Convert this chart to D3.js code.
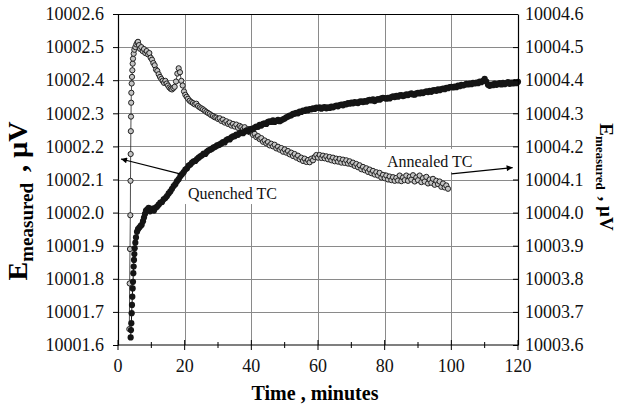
<!DOCTYPE html>
<html>
<head>
<meta charset="utf-8">
<script src="https://cdn.jsdelivr.net/npm/d3@7"></script>
<style>
  body { margin: 0; background: #fff; }
</style>
</head>
<body>
<div id="chart"></div>
<script>
// Quenched TC, left axis [time (min), E (uV)]
const quenched = [
  [3.8,10001.623],[3.9,10001.645],[4.0,10001.666],[4.1,10001.696],[4.2,10001.721],[4.3,10001.746],
  [4.4,10001.771],[4.5,10001.791],[4.6,10001.817],[4.7,10001.837],[4.8,10001.857],[4.9,10001.875],
  [5.0,10001.892],[5.2,10001.909],[5.4,10001.925],[5.7,10001.942],[6.0,10001.950],[6.4,10001.955],
  [6.8,10001.960],[7.1,10001.963],[7.5,10001.974],[7.8,10001.985],[8.1,10001.996],[8.4,10002.006],
  [8.8,10002.010],[9.2,10002.014],[9.6,10002.004],[10.0,10002.008],[10.4,10002.012],[10.8,10002.006],
  [11.2,10002.014],[11.7,10002.018],[12.2,10002.024],[12.7,10002.030],[13.2,10002.032],[13.7,10002.040],
  [14.2,10002.044],[14.7,10002.050],[15.2,10002.058],[15.7,10002.064],[16.2,10002.072],[16.7,10002.080],
  [17.2,10002.086],[17.7,10002.095],[18.2,10002.101],[18.7,10002.110],[19.2,10002.116],[19.7,10002.122],
  [20.2,10002.130],[20.7,10002.134],[21.2,10002.142],[21.7,10002.145],[22.2,10002.151],[22.7,10002.155],
  [23.2,10002.156],[23.7,10002.162],[24.2,10002.166],[24.7,10002.170],[25.2,10002.173],[25.7,10002.178],
  [26.2,10002.177],[26.7,10002.184],[27.2,10002.188],[27.7,10002.190],[28.2,10002.193],[28.7,10002.197],
  [29.2,10002.199],[29.7,10002.203],[30.2,10002.204],
  [30.5,10002.206],[31,10002.209],[31.5,10002.213],[32,10002.212],[32.5,10002.219],[33,10002.222],
  [33.5,10002.221],[34,10002.227],[34.5,10002.230],[35,10002.231],[35.5,10002.236],[36,10002.235],
  [36.5,10002.240],[37,10002.242],[37.5,10002.240],[38,10002.245],[38.5,10002.248],[39,10002.246],
  [39.5,10002.251],[40,10002.253],[40.5,10002.252],[41,10002.257],[41.5,10002.260],[42,10002.259],
  [42.5,10002.265],[43,10002.263],[43.5,10002.268],[44,10002.270],[44.5,10002.268],[45,10002.274],
  [45.5,10002.276],[46,10002.274],[46.5,10002.279],[47,10002.274],[47.5,10002.277],[48,10002.280],
  [48.5,10002.276],[49,10002.279],[49.5,10002.282],[50,10002.284],[50.5,10002.288],[51,10002.290],
  [51.5,10002.293],[52,10002.294],[52.5,10002.298],[53,10002.299],[53.5,10002.301],[54,10002.300],
  [54.5,10002.305],[55,10002.304],[55.5,10002.308],[56,10002.307],[56.5,10002.311],[57,10002.309],
  [57.5,10002.313],[58,10002.312],[58.5,10002.315],[59,10002.313],[59.5,10002.317],[60,10002.316],
  [60.5,10002.318],[61,10002.314],[61.5,10002.317],[62,10002.319],[62.5,10002.315],[63,10002.318],
  [63.5,10002.316],[64,10002.320],[64.5,10002.318],[65,10002.321],[65.5,10002.323],[66,10002.321],
  [66.5,10002.325],[67,10002.326],[67.5,10002.324],[68,10002.328],[68.5,10002.327],[69,10002.331],
  [69.5,10002.329],[70,10002.332],[70.5,10002.330],[71,10002.334],[71.5,10002.332],[72,10002.331],
  [72.5,10002.335],[73,10002.336],[73.5,10002.334],[74,10002.337],[74.5,10002.335],[75,10002.339],
  [75.5,10002.341],[76,10002.339],[76.5,10002.342],[77,10002.337],[77.5,10002.341],[78,10002.343],
  [78.5,10002.341],[79,10002.345],[79.5,10002.347],[80,10002.346],[80.5,10002.344],[81,10002.347],
  [81.5,10002.345],[82,10002.349],[82.5,10002.351],[83,10002.349],[83.5,10002.353],[84,10002.350],
  [84.5,10002.354],[85,10002.355],[85.5,10002.352],[86,10002.354],[86.5,10002.357],[87,10002.355],
  [87.5,10002.358],[88,10002.360],[88.5,10002.357],[89,10002.356],[89.5,10002.360],[90,10002.362],
  [90.5,10002.360],[91,10002.363],[91.5,10002.361],[92,10002.364],[92.5,10002.366],[93,10002.364],
  [93.5,10002.368],[94,10002.365],[94.5,10002.369],[95,10002.370],[95.5,10002.368],[96,10002.372],
  [96.5,10002.370],[97,10002.373],[97.5,10002.375],[98,10002.373],[98.5,10002.377],[99,10002.376],
  [99.5,10002.379],[100,10002.380],[100.5,10002.378],[101,10002.381],[101.5,10002.379],[102,10002.384],
  [102.5,10002.382],[103,10002.386],[103.5,10002.384],[104,10002.386],[104.5,10002.389],[105,10002.387],
  [105.5,10002.390],[106,10002.388],[106.5,10002.392],[107,10002.390],[107.5,10002.393],[108,10002.391],
  [108.5,10002.396],[109,10002.394],[109.5,10002.398],[110,10002.404],[110.5,10002.396],[111,10002.386],
  [111.5,10002.383],[112,10002.387],[112.5,10002.385],[113,10002.390],[113.5,10002.386],[114,10002.388],
  [114.5,10002.391],[115,10002.387],[115.5,10002.392],[116,10002.388],[116.5,10002.391],[117,10002.394],
  [117.5,10002.389],[118,10002.393],[118.5,10002.390],[119,10002.394],[119.5,10002.391],[120,10002.395]
];

// Annealed TC, right axis [time (min), E (uV)]
const annealed = [
  [3.4,10003.648],[3.5,10003.786],[3.6,10003.890],[3.7,10003.992],[3.75,10004.096],[3.8,10004.177],
  [3.85,10004.246],[3.9,10004.290],[3.95,10004.332],[4.0,10004.362],[4.1,10004.390],[4.2,10004.410],
  [4.3,10004.430],[4.4,10004.450],[4.5,10004.465],[4.7,10004.480],[4.9,10004.492],[5.2,10004.500],
  [5.5,10004.508],[5.8,10004.514],[6.0,10004.516],[6.3,10004.506],[6.6,10004.495],[7.0,10004.500],
  [7.4,10004.488],[7.8,10004.494],[8.2,10004.482],[8.6,10004.488],[9.0,10004.478],[9.4,10004.482],
  [9.8,10004.468],[10.2,10004.462],[10.6,10004.452],[11.0,10004.445],[11.4,10004.432],[11.8,10004.428],
  [12.2,10004.418],[12.6,10004.410],[13.0,10004.404],[13.4,10004.398],[13.8,10004.392],[14.2,10004.398],
  [14.6,10004.390],[15.0,10004.384],[15.4,10004.378],[15.8,10004.374],[16.2,10004.372],[16.6,10004.376],
  [17.0,10004.380],[17.4,10004.396],[17.8,10004.420],[18.2,10004.436],[18.6,10004.424],[19.0,10004.398],
  [19.4,10004.384],[19.8,10004.366],[20.2,10004.356],[20.6,10004.350],[21.0,10004.344],[21.5,10004.338],
  [22.0,10004.334],[22.5,10004.331],[23.0,10004.327],[23.5,10004.329],[24.0,10004.322],[24.5,10004.318],
  [25.0,10004.315],[25.5,10004.312],[26.0,10004.308],[26.5,10004.304],[27.0,10004.301],[27.5,10004.298],
  [28.0,10004.294],[28.5,10004.292],[29.0,10004.288],[29.5,10004.287],[30.0,10004.283],
  [30.5,10004.285],[31,10004.277],[31.5,10004.281],[32,10004.272],[32.5,10004.276],[33,10004.268],
  [33.5,10004.272],[34,10004.263],[34.5,10004.268],[35,10004.260],[35.5,10004.266],[36,10004.256],
  [36.5,10004.262],[37,10004.258],[37.5,10004.252],[38,10004.258],[38.5,10004.247],[39,10004.252],
  [39.5,10004.243],[40,10004.246],[40.5,10004.235],[41,10004.238],[41.5,10004.228],[42,10004.231],
  [42.5,10004.222],[43,10004.225],[43.5,10004.214],[44,10004.218],[44.5,10004.209],[45,10004.213],
  [45.5,10004.203],[46,10004.208],[46.5,10004.200],[47,10004.205],[47.5,10004.194],[48,10004.199],
  [48.5,10004.190],[49,10004.195],[49.5,10004.184],[50,10004.191],[50.5,10004.181],[51,10004.186],
  [51.5,10004.176],[52,10004.181],[52.5,10004.171],[53,10004.177],[53.5,10004.166],[54,10004.172],
  [54.5,10004.161],[55,10004.166],[55.5,10004.156],[56,10004.163],[56.5,10004.153],[57,10004.159],
  [57.5,10004.152],[58,10004.163],[58.5,10004.158],[59,10004.168],[59.5,10004.174],[60,10004.166],
  [60.5,10004.174],[61,10004.165],[61.5,10004.172],[62,10004.164],[62.5,10004.170],[63,10004.161],
  [63.5,10004.168],[64,10004.158],[64.5,10004.166],[65,10004.155],[65.5,10004.163],[66,10004.154],
  [66.5,10004.162],[67,10004.151],[67.5,10004.160],[68,10004.150],[68.5,10004.158],[69,10004.148],
  [69.5,10004.155],[70,10004.146],[70.5,10004.151],[71,10004.141],[71.5,10004.147],[72,10004.137],
  [72.5,10004.143],[73,10004.131],[73.5,10004.138],[74,10004.128],[74.5,10004.134],[75,10004.123],
  [75.5,10004.130],[76,10004.119],[76.5,10004.126],[77,10004.115],[77.5,10004.122],[78,10004.112],
  [78.5,10004.120],[79,10004.106],[79.5,10004.114],[80,10004.104],[80.5,10004.112],[81,10004.100],
  [81.5,10004.109],[82,10004.098],[82.5,10004.107],[83,10004.096],[83.5,10004.105],[84,10004.097],
  [84.5,10004.112],[85,10004.095],[85.5,10004.106],[86,10004.098],[86.5,10004.112],[87,10004.096],
  [87.5,10004.108],[88,10004.100],[88.5,10004.113],[89,10004.094],[89.5,10004.106],[90,10004.098],
  [90.5,10004.112],[91,10004.092],[91.5,10004.104],[92,10004.094],[92.5,10004.108],[93,10004.088],
  [93.5,10004.100],[94,10004.090],[94.5,10004.102],[95,10004.084],[95.5,10004.096],[96,10004.086],
  [96.5,10004.094],[97,10004.078],[97.5,10004.088],[98,10004.076],[98.5,10004.082],[99,10004.072]
];

const xTicks = [0, 20, 40, 60, 80, 100, 120];
const xMinor = [10, 30, 50, 70, 90, 110];
const leftTicks = [10001.6, 10001.7, 10001.8, 10001.9, 10002.0, 10002.1, 10002.2, 10002.3, 10002.4, 10002.5, 10002.6];
const rightTicks = [10003.6, 10003.7, 10003.8, 10003.9, 10004.0, 10004.1, 10004.2, 10004.3, 10004.4, 10004.5, 10004.6];

// annotations: [label, axis, text time, text E, arrow from t, from E, arrow to t, to E]
const notes = [
  ['Quenched TC', 'left', 21, 10002.041, 18.6, 10002.117, 0.9, 10002.162],
  ['Annealed TC', 'right', 80.7, 10004.138, 100, 10004.117, 118.4, 10004.136]
];

const FONT = 'Liberation Serif';
const W = 624, H = 408;
const margin = {top: 14, right: 106, bottom: 63, left: 118};

const svg = d3.select('#chart').append('svg')
  .attr('width', W).attr('height', H)
  .attr('font-family', FONT);

const x = d3.scaleLinear().domain([0, 120]).range([margin.left, W - margin.right]);
const yL = d3.scaleLinear().domain([10001.6, 10002.6]).range([H - margin.bottom, margin.top]);
const yR = d3.scaleLinear().domain([10003.6, 10004.6]).range([H - margin.bottom, margin.top]);
const fmt = d3.format('.1f');

// grid
const grid = svg.append('g').attr('stroke', '#8a8a8a').attr('stroke-width', 1);
grid.selectAll('.gh').data(leftTicks.slice(1, -1)).enter().append('line')
  .attr('x1', x(0)).attr('x2', x(120))
  .attr('y1', d => Math.round(yL(d)) + 0.5).attr('y2', d => Math.round(yL(d)) + 0.5);
grid.selectAll('.gv').data(xTicks.slice(1, -1)).enter().append('line')
  .attr('y1', yL(10001.6)).attr('y2', yL(10002.6))
  .attr('x1', d => Math.round(x(d)) + 0.5).attr('x2', d => Math.round(x(d)) + 0.5);

// white label boxes behind annotation text
const noteFont = 16;
notes.forEach(n => {
  const y = n[1] === 'left' ? yL : yR;
  const t = svg.append('text').attr('x', x(n[2])).attr('y', y(n[3]))
    .attr('font-family', FONT).attr('font-size', noteFont).text(n[0]);
  const bb = t.node().getBBox();
  t.remove();
  svg.append('rect')
    .attr('x', bb.x - 4).attr('y', bb.y - 4)
    .attr('width', bb.width + 8).attr('height', bb.height + 6)
    .attr('fill', '#fff');
});

// series
const lineL = d3.line().x(d => x(d[0])).y(d => yL(d[1]));
const lineR = d3.line().x(d => x(d[0])).y(d => yR(d[1]));

svg.append('path').datum(annealed)
  .attr('d', lineR).attr('fill', 'none').attr('stroke', '#222').attr('stroke-width', 0.8);
svg.append('g').selectAll('circle').data(annealed).enter().append('circle')
  .attr('cx', d => x(d[0])).attr('cy', d => yR(d[1])).attr('r', 2.6)
  .attr('fill', '#c4c4c4').attr('stroke', '#222').attr('stroke-width', 1);

svg.append('path').datum(quenched)
  .attr('d', lineL).attr('fill', 'none').attr('stroke', '#111').attr('stroke-width', 1);
svg.append('g').selectAll('circle').data(quenched).enter().append('circle')
  .attr('cx', d => x(d[0])).attr('cy', d => yL(d[1])).attr('r', 3.1)
  .attr('fill', '#151515');

// annotation text and arrows
svg.append('defs').append('marker')
  .attr('id', 'arrow').attr('viewBox', '0 0 10 10')
  .attr('refX', 10).attr('refY', 5)
  .attr('markerWidth', 9).attr('markerHeight', 6)
  .attr('markerUnits', 'userSpaceOnUse')
  .attr('orient', 'auto')
  .append('path').attr('d', 'M0,0L10,5L0,10Z').attr('fill', '#000');

notes.forEach(n => {
  const y = n[1] === 'left' ? yL : yR;
  svg.append('text').attr('x', x(n[2])).attr('y', y(n[3]))
    .attr('font-size', noteFont).attr('fill', '#111').text(n[0]);
  svg.append('line')
    .attr('x1', x(n[4])).attr('y1', y(n[5]))
    .attr('x2', x(n[6])).attr('y2', y(n[7]))
    .attr('stroke', '#000').attr('stroke-width', 1.2)
    .attr('marker-end', 'url(#arrow)');
});

// frame
svg.append('line').attr('x1', x(0)).attr('x2', x(120))
  .attr('y1', yL(10002.6) + 0.5).attr('y2', yL(10002.6) + 0.5)
  .attr('stroke', '#000').attr('stroke-width', 1.2);

// left axis
const gL = svg.append('g').attr('transform', `translate(${x(0)},0)`);
gL.call(d3.axisLeft(yL).tickValues(yL.ticks(20)).tickSize(3).tickFormat('').tickSizeOuter(0));
gL.call(d3.axisLeft(yL).tickValues(leftTicks).tickSize(5).tickPadding(9).tickFormat(fmt).tickSizeOuter(0));

// right axis, ticks pointing inward
const gR = svg.append('g').attr('transform', `translate(${x(120)},0)`);
gR.call(d3.axisRight(yR).tickValues(yR.ticks(20)).tickSize(-3).tickFormat('').tickSizeOuter(0));
gR.call(d3.axisRight(yR).tickValues(rightTicks).tickSize(-5).tickPadding(7).tickFormat(fmt).tickSizeOuter(0));

[gL, gR].forEach(g => g.attr('font-family', FONT).attr('font-size', 18));

// bottom axis, ticks cross the line
const gB = svg.append('g').attr('transform', `translate(0,${yL(10001.6)})`);
gB.append('line').attr('x1', x(0)).attr('x2', x(120)).attr('stroke', '#000').attr('stroke-width', 1.2);
gB.selectAll('.maj').data(xTicks).enter().append('line')
  .attr('x1', d => x(d)).attr('x2', d => x(d)).attr('y1', -5).attr('y2', 5).attr('stroke', '#000');
gB.selectAll('.min').data(xMinor).enter().append('line')
  .attr('x1', d => x(d)).attr('x2', d => x(d)).attr('y1', -3).attr('y2', 3).attr('stroke', '#000');
gB.selectAll('.lab').data(xTicks).enter().append('text')
  .attr('x', d => x(d)).attr('y', 27).attr('text-anchor', 'middle')
  .attr('font-size', 18).attr('fill', '#111').text(d => d);

svg.selectAll('.domain').attr('stroke-width', 1.2);
svg.selectAll('.tick text').attr('fill', '#111');

// axis titles
svg.append('text')
  .attr('x', (x(0) + x(120)) / 2 - 3).attr('y', 400)
  .attr('text-anchor', 'middle').attr('font-size', 20).attr('font-weight', 'bold')
  .text('Time , minutes');

const tl = svg.append('text')
  .attr('transform', 'translate(27,201) rotate(-90)')
  .attr('text-anchor', 'middle').attr('font-weight', 'bold');
tl.append('tspan').attr('font-size', 28).text('E');
tl.append('tspan').attr('font-size', 19).attr('dy', 6).text('measured');
tl.append('tspan').attr('font-size', 28).attr('dy', -6).attr('dx', 4).text(' , µV');

const tr = svg.append('text')
  .attr('transform', 'translate(600,177) rotate(90)')
  .attr('text-anchor', 'middle').attr('font-weight', 'bold');
tr.append('tspan').attr('font-size', 19).text('E');
tr.append('tspan').attr('font-size', 13).attr('dy', 4).text('measured');
tr.append('tspan').attr('font-size', 19).attr('dy', -4).attr('dx', 2).text(' , µV');

svg.selectAll('text').attr('font-family', FONT);
</script>
</body>
</html>
